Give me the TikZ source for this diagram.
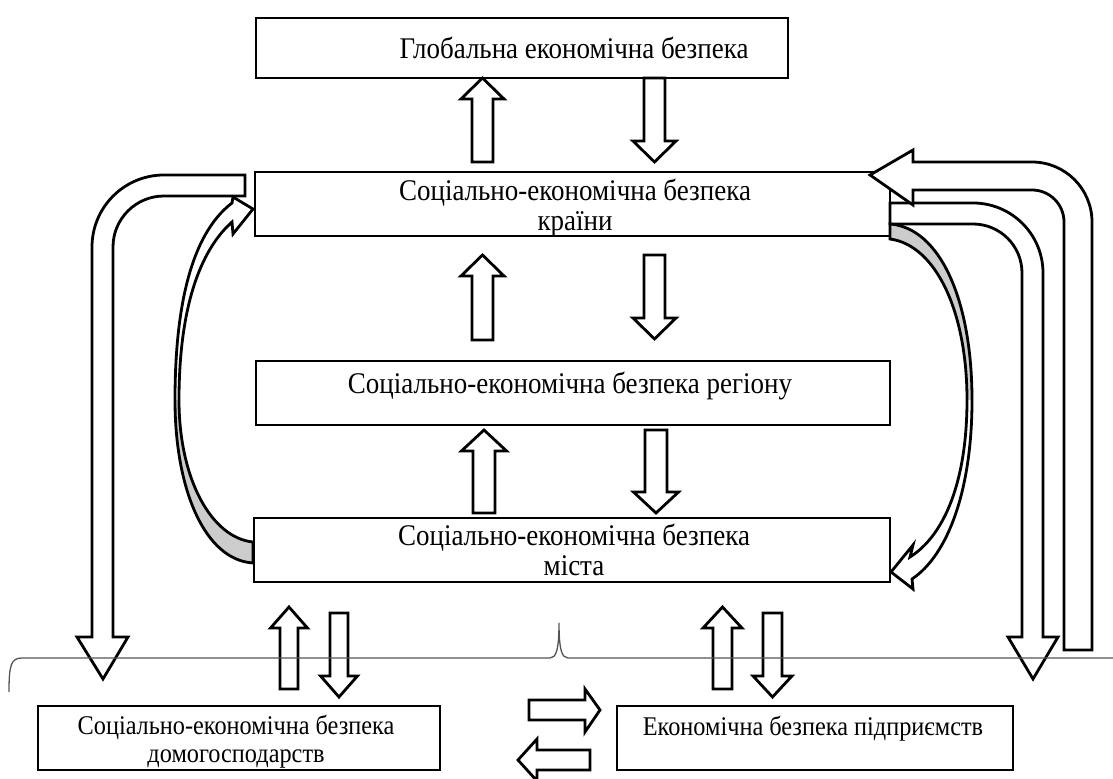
\documentclass[tikz,border=0pt]{standalone}
\usepackage{fontspec}
\setmainfont[FakeStretch=0.9]{Liberation Serif}
\usetikzlibrary{fit}
\definecolor{tailgray}{RGB}{204,204,204}
\definecolor{bracegray}{RGB}{85,85,85}
\tikzset{
  box/.style={draw, line width=1.4pt, fill=white, inner sep=0pt},
  blockarr/.style={draw, line width=1.4pt, fill=white, line join=miter},
  caption/.style={font=\fontsize{15}{15}\selectfont, align=center, inner sep=0pt},
  smallcaption/.style={font=\fontsize{13.5}{14}\selectfont, align=center, inner sep=0pt},
}
% hollow block arrows: x of the middle, two y ends, half width of the shaft
\newcommand{\blockup}[4]{%
  \draw[blockarr] ({#1-#4},{#3}) -- ({#1-#4},{#2+21}) -- ({#1-2.05*#4},{#2+21})
    -- ({#1},{#2}) -- ({#1+2.05*#4},{#2+21}) -- ({#1+#4},{#2+21}) -- ({#1+#4},{#3}) -- cycle;}
\newcommand{\blockdown}[4]{%
  \draw[blockarr] ({#1-#4},{#2}) -- ({#1-#4},{#3-21}) -- ({#1-2.05*#4},{#3-21})
    -- ({#1},{#3}) -- ({#1+2.05*#4},{#3-21}) -- ({#1+#4},{#3-21}) -- ({#1+#4},{#2}) -- cycle;}
\begin{document}
\begin{tikzpicture}[x=0.5pt, y=-0.5pt, line join=miter]
\useasboundingbox (0,0) rectangle (1113,779);

% levels
\node[box, fit={(256,18) (788,78)}] (global) {};
\node[box, fit={(255,172) (890,236)}] (country) {};
\node[box, fit={(256,361) (890,425)}] (region) {};
\node[box, fit={(254,518) (890,582)}] (city) {};
\node[box, fit={(38,706) (440,770)}] (house) {};
\node[box, fit={(617,706) (1013,770)}] (firms) {};

\node[caption] (tglobal) at (574,48) {Глобальна економічна безпека};
\node[caption] (tcountry) at (575,208) {Соціально-економічна безпека\\країни};
\node[caption] (tregion) at (570,386) {Соціально-економічна безпека регіону};
\node[caption] (tcity) at (574,550) {Соціально-економічна безпека\\міста};
\node[smallcaption] (thouse) at (236,742) {Соціально-економічна безпека\\домогосподарств};
\node[smallcaption] (tfirms) at (813,729) {Економічна безпека підприємств};

% straight arrows between the levels
\blockup{482.5}{78}{162}{10.5}
\blockdown{654.5}{78}{162}{10.5}
\blockup{482.5}{255}{340}{10.5}
\blockdown{654.5}{255}{339}{10.5}
\blockup{484}{430}{513}{11}
\blockdown{656}{430}{513}{11}
\blockup{289}{607}{689}{9}
\blockdown{339}{613}{697}{9}
\blockup{722.5}{607}{689}{9.5}
\blockdown{772.5}{613}{697}{9.5}

% between households and firms
\draw[blockarr] (529,700) -- (585,700) -- (585,689) -- (600,710) -- (585,732) -- (585,720) -- (529,720) -- cycle;
\draw[blockarr] (590,750) -- (537,750) -- (537,739) -- (518,760) -- (537,781) -- (537,770) -- (590,770) -- cycle;

% big bent arrows
\draw[blockarr] (245,175) -- (164,175) arc[start angle=270, end angle=180, radius=72]
  -- (92,637) -- (77,637) -- (103,679) -- (128,637) -- (113,637)
  -- (113,247) arc[start angle=180, end angle=270, radius=51] -- (245,196) -- cycle;
\draw[blockarr] (890,203) -- (973,203) arc[start angle=270, end angle=360, radius=70]
  -- (1043,637) -- (1058,637) -- (1033,679) -- (1008,637) -- (1022,637)
  -- (1022,273) arc[start angle=0, end angle=-90, radius=49] -- (890,224) -- cycle;
\draw[blockarr] (870,175) -- (913,150) -- (913,162) -- (1032,162) arc[start angle=270, end angle=360, radius=60]
  -- (1092,650) -- (1064,650)
  -- (1064,222) arc[start angle=0, end angle=-90, radius=32] -- (913,190) -- (913,205) -- cycle;

% curved arrow city -> country
\fill[tailgray] (253,563) .. controls (205,560) and (175,490) .. (175,400)
  -- (179,400) .. controls (179,480) and (212,538) .. (253,542) -- cycle;
\fill[white] (175,400) .. controls (175,310) and (190,235) .. (232,203)
  -- (233,197) -- (253,209) -- (233,234) -- (232,222)
  .. controls (195,255) and (179,320) .. (179,400) -- cycle;
\draw[line width=1.4pt] (253,563) .. controls (205,560) and (175,490) .. (175,400)
  .. controls (175,310) and (190,235) .. (232,203)
  -- (233,197) -- (253,209) -- (233,234) -- (232,222)
  .. controls (195,255) and (179,320) .. (179,400)
  .. controls (179,480) and (212,538) .. (253,542) -- cycle;

% curved arrow country -> city
\fill[tailgray] (890,224) .. controls (940,228) and (972,300) .. (972,400)
  -- (967,400) .. controls (967,310) and (935,245) .. (890,239) -- cycle;
\fill[white] (972,400) .. controls (972,490) and (948,555) .. (912,579)
  -- (913,589) -- (891,572) -- (913,545) -- (910,557)
  .. controls (945,535) and (967,480) .. (967,400) -- cycle;
\draw[line width=1.4pt] (890,224) .. controls (940,228) and (972,300) .. (972,400)
  .. controls (972,490) and (948,555) .. (912,579)
  -- (913,589) -- (891,572) -- (913,545) -- (910,557)
  .. controls (945,535) and (967,480) .. (967,400)
  .. controls (967,310) and (935,245) .. (890,239) -- cycle;

% brace
\draw[bracegray, line width=0.65pt] (9,692) .. controls (9,665) and (11,658) .. (22,658)
  -- (550,658) .. controls (556,658) and (559,650) .. (559,623)
  .. controls (559,650) and (562,658) .. (568,658) -- (1113,658);
\end{tikzpicture}
\end{document}
